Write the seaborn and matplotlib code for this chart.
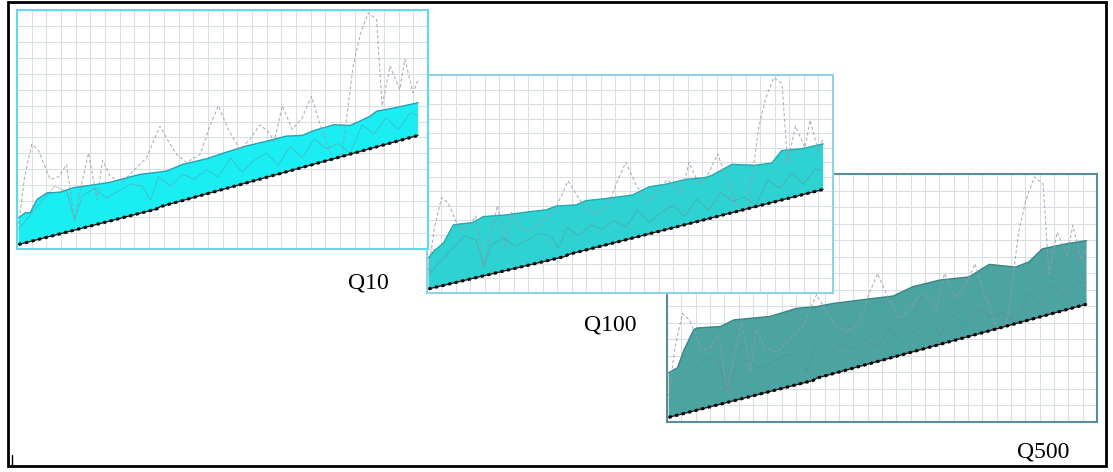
import numpy as np
import matplotlib
matplotlib.use("Agg")
import matplotlib.pyplot as plt
import seaborn as sns
from matplotlib.patches import Rectangle
from matplotlib.lines import Line2D

# lower bound (straight trend line with a small step)
lower_x = [0, 34.5, 35.5, 100]
lower_y = [1.4, 16.4, 17.4, 47.5]

# upper envelopes for each return period
q10_x = [0, 1.7, 2.9, 4.6, 7.1, 10.4, 13.75, 19.6, 22.9, 27.1, 30.4, 37, 41, 47, 52, 57,
         62, 67, 71, 74, 79, 83, 85.4, 88, 89.6, 93.75, 100]
q10_y = [12.7, 14.8, 14.8, 20.4, 23.2, 23.5, 25.4, 26.8, 27.7, 29.6, 31, 32.4, 35.2, 37.6,
         40.4, 43, 45, 47.2, 47.5, 49.6, 52, 51.7, 53.5, 55.6, 57.7, 59, 61.3]

q100_x = [0, 1.3, 3.8, 6.3, 11.3, 13.9, 19.7, 25.6, 29.8, 32.4, 37.4, 39.9, 45, 51.7, 55.9,
          60.1, 65.1, 70.2, 71.8, 76.9, 82.8, 87, 89.5, 94.5, 100]
q100_y = [15.8, 18.8, 22.7, 31.1, 32.2, 34.9, 35.7, 37.2, 38, 39.8, 40.3, 42.3, 43.3, 44.9,
          48.7, 49.9, 52.1, 53, 54, 59.1, 58.7, 59.7, 65.5, 66.3, 68.6]

q500_x = [0, 2.1, 3.7, 6, 6.8, 12.4, 15.6, 24.3, 30.6, 35.4, 39.4, 47.3, 53.7, 58.4, 64.8,
          71.9, 76.7, 83, 86.2, 89.4, 94.9, 100]
q500_y = [19.6, 21.6, 29, 37.1, 37.8, 38.4, 41.1, 42.5, 45.8, 46.5, 47.8, 49.5, 50.8, 54.6,
          57.3, 58.6, 63.7, 62.6, 64.7, 70, 72, 73.4]

# observed series (gray lines)
obs_a_x = [0, 1.5, 3.3, 5, 7.9, 10, 12, 14, 15.5, 17.5, 19.6, 21, 23, 26, 29, 32, 35.4, 37.5,
           39.6, 42, 45.4, 48, 50, 52.5, 55.4, 58, 60.4, 62.5, 64, 66, 68.5, 71, 73.3, 75.5,
           78.75, 81, 83.75, 85.5, 87.5, 89.6, 91, 93, 95.4, 96.7, 98.75, 100]
obs_a_y = [10, 30, 43.7, 41, 28.9, 30, 35.2, 11.3, 25, 40, 20.4, 37, 30, 28, 33, 38, 51.4, 45,
           39.4, 36, 39.4, 52, 60, 50, 41.5, 46, 52, 49, 45, 60, 50, 55, 64, 52,
           37.3, 40, 76.8, 90, 99.3, 96.5, 60, 76.8, 66.9, 79.6, 65.5, 71]

obs_b_x = [0, 3, 6, 9, 12, 14, 16, 19, 22, 25, 28, 31, 33, 35, 38, 41, 44, 47, 50, 53, 56, 59,
           62, 65, 68, 71, 74, 77, 80, 83, 86, 89, 92, 95, 98, 100]
obs_b_y = [8, 14, 20, 26, 24, 12, 22, 25, 21, 24, 27, 26, 20, 30, 26, 31, 29, 33, 30, 38, 32,
           37, 40, 35, 43, 38, 46, 42, 44, 40, 52, 48, 55, 50, 57, 56]

labels = ["Q10", "Q100", "Q500"]

sns.set_style("white")
fig = plt.figure(figsize=(11.13, 4.72), dpi=100)

# panels in draw order: Q500 at the back, Q10 in front
panels = [
    dict(rect=[0.5993, 0.1059, 0.3863, 0.5254], ux=q500_x, uy=q500_y,
         fill="#4ba4a2", edge="#3b8582", frame="#5b8d97", ncols=30),
    dict(rect=[0.3836, 0.3792, 0.3648, 0.4619], ux=q100_x, uy=q100_y,
         fill="#2fd2d2", edge="#25a9ad", frame="#8fd3e3", ncols=28),
    dict(rect=[0.0153, 0.4725, 0.3693, 0.5064], ux=q10_x, uy=q10_y,
         fill="#1aeef2", edge="#2a9fb3", frame="#5fdbe6", ncols=28),
]

for p in panels:
    ax = fig.add_axes(p["rect"])
    ax.set_facecolor("white")
    ax.set_xlim(-0.4, 102.5)
    ax.set_ylim(-0.5, 100.5)
    ax.set_xticks(np.linspace(-0.4, 102.5, p["ncols"] + 1))
    ax.set_yticks(np.linspace(-0.5, 100.5, 16))
    ax.grid(True, color="#d9dee2", linewidth=0.8)
    ax.tick_params(length=0, labelbottom=False, labelleft=False)
    ax.set_axisbelow(True)

    poly_x = list(p["ux"]) + lower_x[::-1]
    poly_y = list(p["uy"]) + lower_y[::-1]
    ax.fill(poly_x, poly_y, color=p["fill"], linewidth=0, zorder=2)
    sns.lineplot(x=p["ux"], y=p["uy"], ax=ax, color=p["edge"], linewidth=1.0,
                 sort=False, zorder=3)

    sns.lineplot(x=obs_a_x, y=obs_a_y, ax=ax, color="#9c97a6", linewidth=0.8,
                 linestyle=(0, (3, 2)), sort=False, alpha=0.75, zorder=4)
    sns.lineplot(x=obs_b_x, y=obs_b_y, ax=ax, color="#6f7f86", linewidth=0.6,
                 sort=False, alpha=0.45, zorder=4)

    sns.lineplot(x=lower_x, y=lower_y, ax=ax, color="#222222", linewidth=1.0,
                 sort=False, zorder=5)
    sns.lineplot(x=lower_x, y=lower_y, ax=ax, color="black", linewidth=2.2,
                 linestyle=(0, (1, 1.2)), sort=False, zorder=6)

    for s in ax.spines.values():
        s.set_visible(True)
        s.set_color(p["frame"])
        s.set_linewidth(1.5)
        s.set_zorder(7)

label_pos = [(0.3306, 0.4004), (0.548, 0.3114), (0.937, 0.0424)]
for txt, (lx, ly) in zip(labels, label_pos):
    fig.text(lx, ly, txt, ha="center", va="center", fontsize=17, color="black",
             family=["Liberation Serif", "DejaVu Serif"])

# outer frame
fig.add_artist(Rectangle((0.0072, 0.0127), 0.9865, 0.983, transform=fig.transFigure,
                         fill=False, edgecolor="black", linewidth=2))
fig.add_artist(Line2D([0.0108, 0.0108], [0.0127, 0.035], transform=fig.transFigure,
                      color="black", linewidth=1))

fig.savefig("out.png", dpi=100)
